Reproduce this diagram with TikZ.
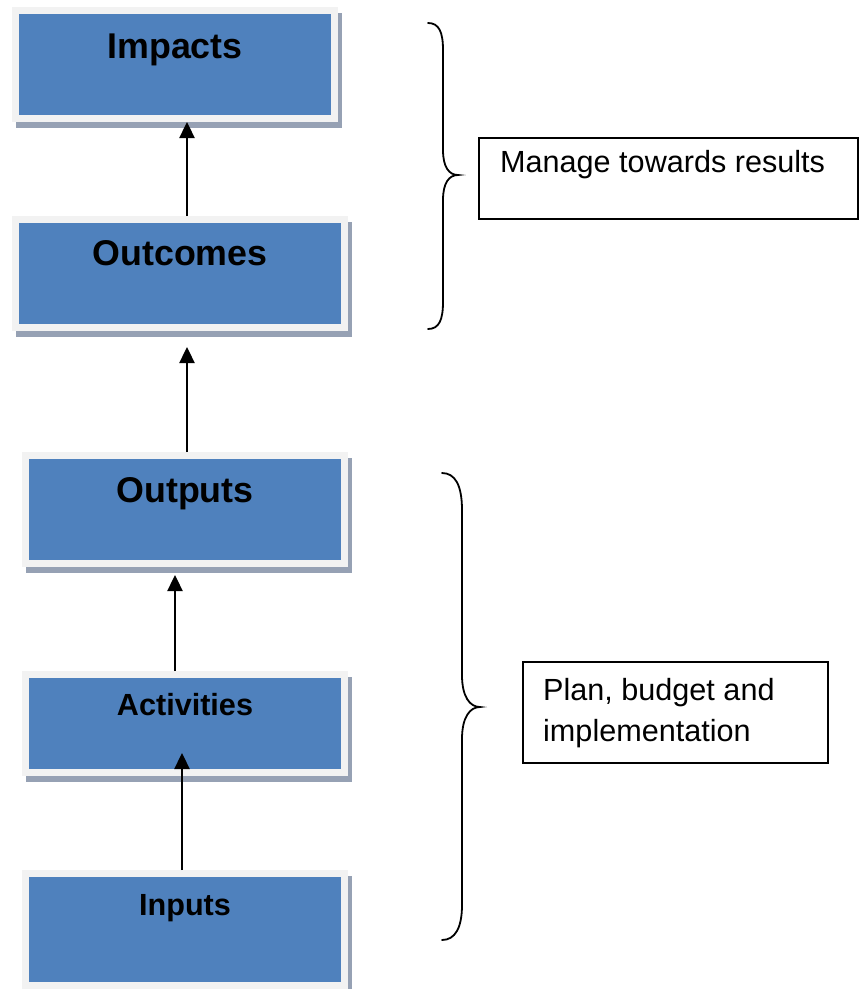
\documentclass[tikz,border=0pt]{standalone}
\usepackage{fontspec}
\setmainfont{Liberation Sans}
\usetikzlibrary{arrows.meta}
\definecolor{boxblue}{RGB}{79,129,189}
\definecolor{framegray}{RGB}{242,242,242}
\definecolor{shadowcol}{RGB}{150,161,180}
\tikzset{
  pbox/.style={rectangle, fill=boxblue, draw=framegray, line width=7pt, inner sep=0pt,
    preaction={draw=shadowcol, fill=shadowcol, line width=7pt, transform canvas={xshift=4pt,yshift=-6pt}}},
  bigtitle/.style={inner sep=0pt, font=\fontsize{35.8}{42}\selectfont\bfseries},
  smalltitle/.style={inner sep=0pt, font=\fontsize{30.6}{36}\selectfont\bfseries},
  plaintext/.style={inner sep=0pt, font=\fontsize{30.6}{36}\selectfont},
  tbox/.style={rectangle, draw=black, line width=1.3pt, inner sep=0pt, fill=white},
  arr/.style={line width=2.4pt, -{Triangle[width=15pt,length=16pt]}},
  brace/.style={line width=1.8pt, line cap=round}
}
\begin{document}
\begin{tikzpicture}[x=1pt,y=-1pt]
\useasboundingbox (0,0) rectangle (860,989);
\fill[white] (0,0) rectangle (860,989);

% blue boxes
\node[pbox, minimum width=319, minimum height=108] (impacts) at (175,64.5) {};
\node[pbox, minimum width=329, minimum height=108] (outcomes) at (180,273.5) {};
\node[pbox, minimum width=319, minimum height=108] (outputs) at (185,509.5) {};
\node[pbox, minimum width=319, minimum height=98] (activities) at (185,723.5) {};
\node[pbox, minimum width=319, minimum height=112] (inputs) at (185,929.5) {};

% titles
\node[bigtitle, anchor=base] (timpacts) at (175,58) {Impacts};
\node[bigtitle, anchor=base] (toutcomes) at (180,265) {Outcomes};
\node[bigtitle, anchor=base] (toutputs) at (185,502) {Outputs};
\node[smalltitle, anchor=base] (tactivities) at (185,715) {Activities};
\node[smalltitle, anchor=base] (tinputs) at (185,915) {Inputs};

% arrows
\draw[arr] ([xshift=7pt]outcomes.north) -- ([xshift=12pt]impacts.south);
\draw[arr] ([xshift=2pt]outputs.north) -- ([xshift=7pt,yshift=-16pt]outcomes.south);
\draw[arr] ([xshift=-10pt]activities.north) -- ([xshift=-10pt,yshift=-8pt]outputs.south);
\draw[arr] ([xshift=-3pt]inputs.north) -- ([xshift=-3pt,yshift=23pt]activities.south);

% braces
\draw[brace] (428,23) .. controls (439,23) and (443,32) .. (443,50)
  -- (443,150) .. controls (443,167) and (449,175) .. (458,175)
  .. controls (449,175) and (443,183) .. (443,200)
  -- (443,302) .. controls (443,320) and (439,329) .. (428,329);
\draw[brace] (442,473) .. controls (455,473) and (462,485) .. (462,510)
  -- (462,675) .. controls (462,697) and (470,707) .. (480,707)
  .. controls (470,707) and (462,717) .. (462,739)
  -- (462,905) .. controls (462,928) and (455,940) .. (442,940);

% text boxes
\node[tbox, minimum width=379, minimum height=81] (manage) at (668.5,178.5) {};
\node[plaintext, anchor=base west] (tmanage) at (500,172) {Manage towards results};
\node[tbox, minimum width=305, minimum height=101] (plan) at (675.5,712.5) {};
\node[plaintext, anchor=base west] (tplan1) at (543,700) {Plan, budget and};
\node[plaintext, anchor=base west] (tplan2) at (543,741) {implementation};
\end{tikzpicture}
\end{document}
